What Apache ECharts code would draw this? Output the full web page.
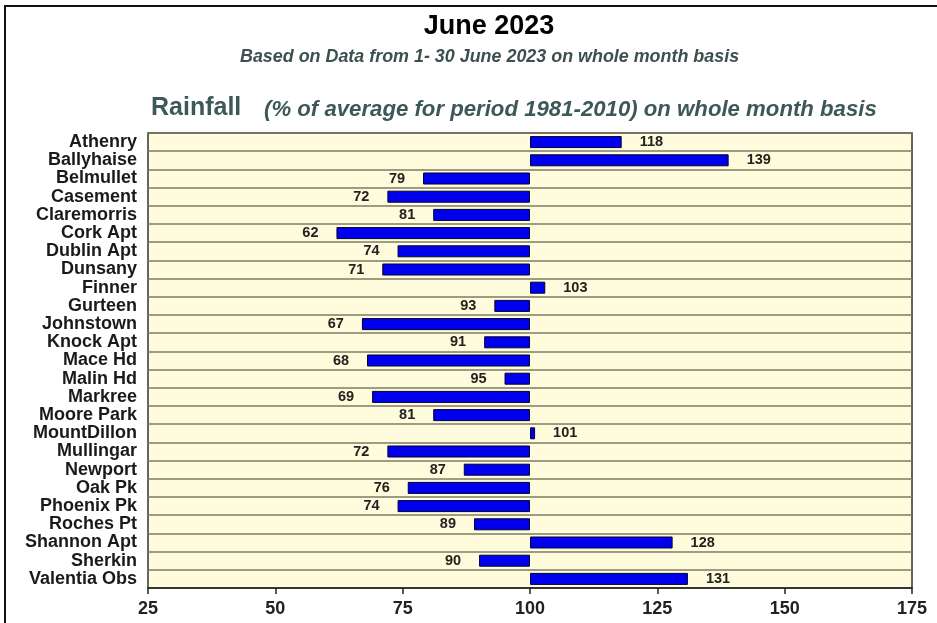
<!DOCTYPE html>
<html><head><meta charset="utf-8">
<script src="https://cdn.jsdelivr.net/npm/echarts@6/dist/echarts.min.js"></script>
<style>html,body{margin:0;padding:0;background:#fff}#c{width:937px;height:623px}</style>
</head><body><div id="c"></div>
<script>
const stations = ["Athenry","Ballyhaise","Belmullet","Casement","Claremorris","Cork Apt","Dublin Apt","Dunsany","Finner","Gurteen","Johnstown","Knock Apt","Mace Hd","Malin Hd","Markree","Moore Park","MountDillon","Mullingar","Newport","Oak Pk","Phoenix Pk","Roches Pt","Shannon Apt","Sherkin","Valentia Obs"];
const rainfallPct = [118,139,79,72,81,62,74,71,103,93,67,91,68,95,69,81,101,72,87,76,74,89,128,90,131];
const baseline = 100;
const xTicks = [25,50,75,100,125,150,175];

const chart = echarts.init(document.getElementById('c'), null, {renderer:'canvas'});
const baseData = rainfallPct.map(v => Math.min(v, baseline));
const barData = rainfallPct.map(v => ({
  value: Math.abs(v - baseline),
  label: {show:true, position: v >= baseline ? 'right' : 'left', distance: 18, formatter: String(v)}
}));
const font = "'Liberation Sans', Arial, sans-serif";
chart.setOption({
  animation:false,
  backgroundColor:'#ffffff',
  graphic:[
    {type:'rect', shape:{x:5, y:6, width:960, height:700}, style:{fill:'none', stroke:'#111', lineWidth:2}, silent:true, z:-1},
    {type:'text', x:489, y:13, style:{text:'June 2023', textAlign:'center', font:"bold 27px " + font, fill:'#000'}},
    {type:'text', x:240, y:48, style:{text:'Based on Data from 1- 30 June 2023 on whole month basis', font:"italic bold 17.9px " + font, fill:'#3c5050'}},
    {type:'text', x:151, y:96, style:{text:'Rainfall', font:"bold 25px " + font, fill:'#3d5858'}},
    {type:'text', x:264, y:99, style:{text:'(% of average for period 1981-2010) on whole month basis', font:"italic bold 22.2px " + font, fill:'#3d5858'}}
  ],
  grid:{left:148, right:25, top:133, height:455, backgroundColor:'#fefcdc', show:true, borderColor:'#333', borderWidth:1.5},
  xAxis:{type:'value', min:25, max:175, interval:25,
    axisLine:{show:true, onZero:false, lineStyle:{color:'#222', width:1.5}},
    axisTick:{show:true, length:6, inside:false, lineStyle:{color:'#222', width:1.5}},
    splitLine:{show:false},
    axisLabel:{color:'#222', fontWeight:'bold', fontSize:18, fontFamily:font, margin:12,
      formatter: v => xTicks.includes(v) ? String(v) : ''}
  },
  yAxis:{type:'category', data:stations, inverse:true,
    axisLine:{show:false}, axisTick:{show:false},
    axisLabel:{interval:0, color:'#1a1a1a', fontWeight:'bold', fontSize:18, fontFamily:font, margin:11},
    splitLine:{show:true, interval:0, lineStyle:{color:'#7d7d62', width:1.5}}
  },
  series:[
    {type:'bar', stack:'s', data:baseData, itemStyle:{color:'rgba(0,0,0,0)'}, barWidth:12, silent:true},
    {type:'bar', stack:'s', data:barData, barWidth:12,
      itemStyle:{color:'#0000ee', borderColor:'#000033', borderWidth:1},
      label:{color:'#222', fontWeight:'bold', fontSize:14.5, fontFamily:font}
    }
  ]
});
</script></body></html>
